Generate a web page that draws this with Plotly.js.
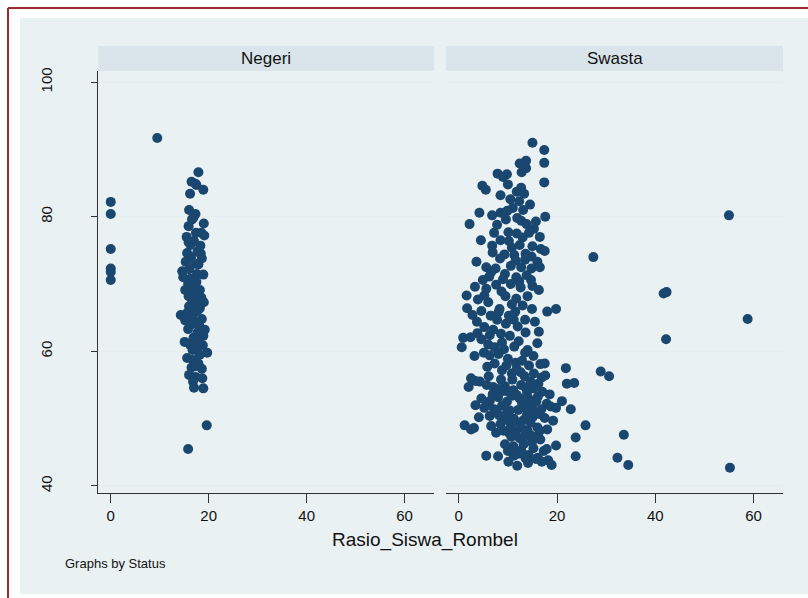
<!DOCTYPE html>
<html>
<head>
<meta charset="utf-8">
<script src="https://cdn.plot.ly/plotly-3.0.1.min.js"></script>
<style>html,body{margin:0;padding:0;background:#fff;}</style>
</head>
<body>
<div id="chart" style="width:808px;height:598px;"></div>
<script>
const panelTitles = ["Negeri", "Swasta"];
const xTicks = [0, 20, 40, 60];
const yTicks = [40, 60, 80, 100];
const xTitle = "Rasio_Siswa_Rombel";
const note = "Graphs by Status";

const negeriX = [0,0,0,0,0,0, 9.5,
 17.9,16.5,17.5,18.9,16.2,17.3,
 16,17.3,16.6,19,15.9,17.4,18.5,19.1,15.5,17,16.3,18.3,17.7,15.6,16.4,18.6,15.3,17.2,16,14.6,17.6,18.9,14.8,16.3,17.5,15.8,16.4,18.2,17.1,15.9,18.5,16.6,19,17.5,16,18.2,17.3,14.3,16.7,18.6,15.2,17.2,16.5,18.1,19.2,15.8,17.7,18.9,16.9,15.1,17.4,18.8,16.2,19.7,17.5,18.2,15.6,16.8,17.9,16.5,18.6,16,17.3,18.7,16.8,17,18.9,19.6,15.8,
 16.9,15.9,17.9,16.9,17.8,15.7,18,16.7,17.3,15.2,18.4];
const negeriY = [82.2,80.4,75.2,72.3,71.8,70.6, 91.7,
 86.6,85.2,84.7,84,83.4,84.9,
 81,80.4,79.6,79,78.6,77.6,77.6,77.2,77,76.4,75.8,75.7,74.8,74.6,74,73.8,73.3,73,72.2,71.9,71.5,71.4,71,70.8,70.3,70,69.3,69.1,68.5,68.2,68,67.6,67.3,67,66.7,66.4,65.9,65.4,65.3,64.8,64.6,64.4,64,63.8,63.2,63.3,62.8,62.3,62,61.4,61.3,60.9,61,59.8,60.2,59.5,59,58.7,58.2,57.6,57.4,56.5,56.2,56,55.5,54.6,54.5,49,45.5,
 79.9,76.2,72.9,69.6,66.1,65.8,61.9,60.2,57.8,69.1,74.5];

const swastaX = [55,27.4,42.3,41.7,58.8,42.2,28.9,30.6,21.8,23.5,22,25.8,33.6,23.8,19.8,32.3,34.5,55.2,23.8,21,22.8,
 15,17.4,17.4,13.7,12.4,13.7,7.9,12.8,9.8,9,4.8,5.5,10,11.8,17.4,13.3,8.5,10.5,12.3,14.5,11,8.5,4.2,17.6,6.8,9.6,12.7,13.8,2.2,7.8,15.3,10.1,11.8,13,14.3,16.5,8.5,4.5,6.8,10.8,12.4,15,16.7,6.9,9.3,11.3,17.5,8.4,13.5,16,3.6,5.6,7.5,10.6,12.7,14.8,16.5,6.6,9.4,11.7,13.8,4.9,7.6,3.3,10.6,12.6,15,16.3,5.6,8.7,1.6,3.9,6,9.5,11.7,14,10.8,13,14.9,18,19.8,1.7,4.6,6.5,10.2,11.2,13.5,15.5,3.7,7.8,9.6,12,0.9,5.2,7,8.6,10.4,13.6,16.3,0.6,4.6,6,7.3,9.2,11.3,14,16,3.2,5.1,6.3,8.1,10,11.6,12.9,14.3,16.6,17.5,2.5,4.3,6.1,8.8,10.8,13.4,15.3,16.9,2,3.4,5.7,7,9.4,11.1,12.7,13.7,15.2,17,18.5,4.6,6.3,8,9.8,10.9,12.4,14.3,16.1,17.9,3.4,5.2,7.2,8.8,10.4,12.1,13.6,15.3,16.8,18.7,19.8,4.1,6.3,8.2,9.7,11.2,13.2,15.1,17.5,19.2,3.1,6.6,8.5,10.6,12.8,14,16,18,7.6,10.7,12.4,14.5,16.6,9.4,11.1,13.2,15.2,17.3,10,12.2,14.2,16.1,18.2,5.6,8,10.1,11.9,14.1,16.9,18.9,2.5,1.2,
 8.6,9.2,10.3,11.8,12.9,13.9,14.8,15.8,16.4,14.6,13.9,12.3,11.6,10.2,9.1,13.5,15.6,16.5,14.9,12.7,11.2,13.6,15.7,17.9,9.8,7.6,5.9,6.9,8.1,10.9,12.6,14.6,16.2,17.6,11.8,9.7,7.3,5.8,13.5,15.2,12.2,8.8,6.3,3.8,2.4,11.5,8.3,12.3,9,13.6,10.2,11.9,9.9,12.7,14.8,7.2,15.7,13.1,6.2,11.6,14.7,8.1,5.2,2.8];
const swastaY = [80.2,74,68.8,68.6,64.8,61.8,57,56.3,57.5,55.3,55.2,49,47.6,47.2,46,44.2,43.1,42.7,44.4,52.6,51.4,
 91,89.9,88,88.3,87.9,87.2,86.4,86.6,86.3,85.9,84.6,84,84.8,83.7,85.1,83.4,83.2,82.6,82.3,81.8,81.3,80.6,80.6,80,80.2,79.6,79.4,78.9,78.9,78.8,78.2,77.7,77.5,76.9,77.6,77,76.5,76.5,75.7,75.4,75.8,75.6,75.2,74.7,74.4,74.3,74.9,73.8,73.6,73.3,73.3,72.5,72.3,72.7,72.5,72.3,72.5,71.8,71.5,71,71.3,70.6,69.9,69.6,70,69.5,69.7,69.1,69.3,68.9,68.3,67.7,67.3,68.2,67.8,68.2,67,66.8,66.3,65.9,66.3,66.4,66,65.3,65.3,64.7,64.7,64.4,64.4,64.7,64.1,63.7,62,63.6,63.2,62.6,62.3,62.8,62.9,60.6,61.8,61,60.6,60.3,60.7,60.2,61.2,59.3,59.8,59.4,59.6,58.9,58.3,58.6,57.9,58.1,58.2,56,55.5,56.3,57.2,56.7,56.3,56.7,56.1,54.7,55.6,55,54.7,54.8,54.2,55,54.5,54.5,54,53.6,53,52.6,53.2,52.5,53.4,53,52.9,53.3,52.2,52,51.6,51.4,51.9,51.2,51.3,51.6,51.2,51.4,51.8,51.6,50.2,50.4,50.5,49.8,50,49.8,50.3,50.1,49.7,48.6,48.9,49.2,48.8,48.6,48.2,48.7,48.4,47.9,47.3,47.1,47.6,46.9,46.2,45.9,46.2,45.6,45.2,45.2,44.8,44.6,44.2,43.8,44.5,44.4,43.6,43,43.4,43.6,43.1,48.4,49,
 55.8,54.1,53.9,53.5,52.2,53.8,51.9,52.6,50.7,49.4,50.6,49.4,48.1,47.9,48.2,47.4,47.3,48.2,46.5,45.3,44.5,44.1,44,45.5,50.8,50.9,52.1,53.6,54.4,55.8,56.9,55.5,55.2,56.4,57.4,57.9,58.2,57.7,59.8,59.3,61.5,61.3,62.4,62.7,62.1,65.9,66.3,70.4,70.7,74.5,76.4,79.8,80.9,84.3,74.1,77.6,79.3,81,71.1,73.5,70.6,65.8,68.3,65.4];

const W = 808, H = 598;
const px = v => v / W;
const py = v => 1 - v / H;

const markerStyle = {color: '#1a476f', size: 10, line: {width: 0}};
const traces = [
  {x: negeriX, y: negeriY, type: 'scatter', mode: 'markers', marker: markerStyle, xaxis: 'x', yaxis: 'y', hoverinfo: 'x+y'},
  {x: swastaX, y: swastaY, type: 'scatter', mode: 'markers', marker: markerStyle, xaxis: 'x2', yaxis: 'y2', hoverinfo: 'x+y'}
];

const fontFam = 'Liberation Sans, Arial, sans-serif';
const xRange = [-2.6, 66];
const yRange = [38.95, 101.65];
const xCommon = {
  range: xRange, tickvals: xTicks, ticks: 'outside', ticklen: 9, tickcolor: '#333', tickwidth: 1,
  showline: true, linecolor: '#333', linewidth: 1, showgrid: false, zeroline: false,
  tickfont: {family: fontFam, size: 15, color: '#111'}, anchor: 'y'
};
const gridColor = '#e4edf0';
const layout = {
  width: W, height: H,
  margin: {l: 0, r: 0, t: 0, b: 0},
  paper_bgcolor: '#ffffff',
  plot_bgcolor: '#ffffff',
  showlegend: false,
  xaxis: Object.assign({}, xCommon, {domain: [px(98), px(434)], anchor: 'y'}),
  xaxis2: Object.assign({}, xCommon, {domain: [px(446), px(783)], anchor: 'y2'}),
  yaxis: {
    domain: [py(493), py(71)], range: yRange, tickvals: yTicks, ticks: 'outside', ticklen: 6,
    tickcolor: '#333', showline: true, linecolor: '#333', linewidth: 1,
    showgrid: true, gridcolor: gridColor, gridwidth: 1, zeroline: false, tickangle: -90,
    tickfont: {family: fontFam, size: 15, color: '#111'}, anchor: 'x', ticklabelstandoff: 33
  },
  yaxis2: {
    domain: [py(493), py(71)], range: yRange, tickvals: yTicks, showticklabels: false, ticks: '',
    showline: false, showgrid: true, gridcolor: gridColor, gridwidth: 1, zeroline: false, anchor: 'x2'
  },
  shapes: [
    {type: 'rect', xref: 'paper', yref: 'paper', x0: px(20), x1: 1, y0: py(594), y1: py(18), fillcolor: '#eaf1f3', line: {width: 0}, layer: 'below'},
    {type: 'line', xref: 'paper', yref: 'paper', x0: px(8), x1: 1, y0: py(8), y1: py(8), line: {color: '#9e2a2b', width: 2}},
    {type: 'line', xref: 'paper', yref: 'paper', x0: px(8), x1: px(8), y0: py(8), y1: 0, line: {color: '#9e2a2b', width: 2}},
    {type: 'rect', xref: 'paper', yref: 'paper', x0: px(98), x1: px(434), y0: py(71), y1: py(46), fillcolor: '#d9e5eb', line: {width: 0}},
    {type: 'rect', xref: 'paper', yref: 'paper', x0: px(446), x1: px(783), y0: py(71), y1: py(46), fillcolor: '#d9e5eb', line: {width: 0}}
  ],
  annotations: [
    {text: panelTitles[0], xref: 'paper', yref: 'paper', x: px(266), y: py(58.5), xanchor: 'center', yanchor: 'middle', showarrow: false, font: {family: fontFam, size: 17, color: '#111'}},
    {text: panelTitles[1], xref: 'paper', yref: 'paper', x: px(614.5), y: py(58.5), xanchor: 'center', yanchor: 'middle', showarrow: false, font: {family: fontFam, size: 17, color: '#111'}},
    {text: xTitle, xref: 'paper', yref: 'paper', x: px(425), y: py(540), xanchor: 'center', yanchor: 'middle', showarrow: false, font: {family: fontFam, size: 19, color: '#111'}},
    {text: note, xref: 'paper', yref: 'paper', x: px(63), y: py(563), xanchor: 'left', yanchor: 'middle', showarrow: false, font: {family: fontFam, size: 13, color: '#111'}}
  ]
};

Plotly.newPlot('chart', traces, layout, {displayModeBar: false, staticPlot: true});
</script>
</body>
</html>
